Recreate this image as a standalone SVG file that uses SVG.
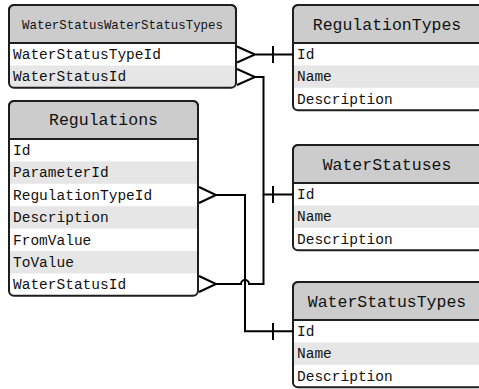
<svg xmlns="http://www.w3.org/2000/svg" width="479" height="389" viewBox="0 0 479 389">
<style>
.box{fill:none;stroke:#1e1e1e;stroke-width:2}
.hdr{fill:#cccccc;stroke:#1e1e1e;stroke-width:2}
.alt{fill:#e6e6e6}
.bg{fill:#ffffff}
.t{font-family:"Liberation Mono","DejaVu Sans Mono",monospace;font-size:14.5px;fill:#111}
.h{font-family:"Liberation Mono","DejaVu Sans Mono",monospace;font-size:16.5px;fill:#111;text-anchor:middle}
.hs{font-size:12.4px}
.ln{fill:none;stroke:#000;stroke-width:2}
</style>
<rect width="479" height="389" fill="#ffffff"/>

<g id="WaterStatusWaterStatusTypes">
<rect class="bg" x="9" y="5" width="227" height="82.8" rx="5"/>
<path class="alt" d="M9,65.4 H236 V82.8 a5,5 0 0 1 -5,5 H14 a5,5 0 0 1 -5,-5 Z"/>
<path class="hdr" d="M9,43 V10 a5,5 0 0 1 5,-5 H231 a5,5 0 0 1 5,5 V43 Z"/>
<rect class="box" x="9" y="5" width="227" height="82.8" rx="5"/>
<text class="h hs" x="122.5" y="29">WaterStatusWaterStatusTypes</text>
<text class="t" x="13" y="59">WaterStatusTypeId</text>
<text class="t" x="13" y="81.4">WaterStatusId</text>
</g>

<g id="RegulationTypes">
<rect class="bg" x="293" y="5" width="190" height="105.2" rx="5"/>
<rect class="alt" x="293" y="65.4" width="190" height="22.4"/>
<path class="hdr" d="M293,43 V10 a5,5 0 0 1 5,-5 H478 a5,5 0 0 1 5,5 V43 Z"/>
<rect class="box" x="293" y="5" width="190" height="105.2" rx="5"/>
<text class="h" x="387" y="29.5">RegulationTypes</text>
<text class="t" x="297" y="59">Id</text>
<text class="t" x="297" y="81.4">Name</text>
<text class="t" x="297" y="103.8">Description</text>
</g>

<g id="Regulations">
<rect class="bg" x="9" y="101" width="189" height="194.8" rx="5"/>
<rect class="alt" x="9" y="161.4" width="189" height="22.4"/>
<rect class="alt" x="9" y="206.2" width="189" height="22.4"/>
<rect class="alt" x="9" y="251" width="189" height="22.4"/>
<path class="hdr" d="M9,139 V106 a5,5 0 0 1 5,-5 H193 a5,5 0 0 1 5,5 V139 Z"/>
<rect class="box" x="9" y="101" width="189" height="194.8" rx="5"/>
<text class="h" x="103.5" y="125">Regulations</text>
<text class="t" x="13" y="155">Id</text>
<text class="t" x="13" y="177.4">ParameterId</text>
<text class="t" x="13" y="199.8">RegulationTypeId</text>
<text class="t" x="13" y="222.2">Description</text>
<text class="t" x="13" y="244.6">FromValue</text>
<text class="t" x="13" y="267">ToValue</text>
<text class="t" x="13" y="289.4">WaterStatusId</text>
</g>

<g id="WaterStatuses">
<rect class="bg" x="293" y="145" width="190" height="105.2" rx="5"/>
<rect class="alt" x="293" y="205.4" width="190" height="22.4"/>
<path class="hdr" d="M293,183 V150 a5,5 0 0 1 5,-5 H478 a5,5 0 0 1 5,5 V183 Z"/>
<rect class="box" x="293" y="145" width="190" height="105.2" rx="5"/>
<text class="h" x="387" y="169.5">WaterStatuses</text>
<text class="t" x="297" y="199">Id</text>
<text class="t" x="297" y="221.4">Name</text>
<text class="t" x="297" y="243.8">Description</text>
</g>

<g id="WaterStatusTypes">
<rect class="bg" x="293" y="282" width="190" height="105.2" rx="5"/>
<rect class="alt" x="293" y="342.4" width="190" height="22.4"/>
<path class="hdr" d="M293,320 V287 a5,5 0 0 1 5,-5 H478 a5,5 0 0 1 5,5 V320 Z"/>
<rect class="box" x="293" y="282" width="190" height="105.2" rx="5"/>
<text class="h" x="387" y="306.5">WaterStatusTypes</text>
<text class="t" x="297" y="336">Id</text>
<text class="t" x="297" y="358.4">Name</text>
<text class="t" x="297" y="380.8">Description</text>
</g>

<g id="connectors">
<!-- WSWST.WaterStatusTypeId -> RegulationTypes.Id -->
<path class="ln" d="M237,46.5 L255,54.5 L237,62.5 M255,54.5 H293 M273,46 V63"/>
<!-- WSWST.WaterStatusId -> WaterStatuses.Id -->
<path class="ln" d="M237,69 L255,77 L237,85 M255,77 H263.5 V194.5 H293 M273,186 V203"/>
<!-- Regulations.WaterStatusId -> WaterStatuses.Id -->
<path class="ln" d="M199,276 L216,284 L199,292 M216,284 H241 a4,4 0 0 1 8,0 H263.5 V194.5"/>
<!-- Regulations.RegulationTypeId -> WaterStatusTypes.Id -->
<path class="ln" d="M199,187 L216,195 L199,203 M216,195 H245 V331.2 H293 M273,323 V340"/>
</g>
</svg>
